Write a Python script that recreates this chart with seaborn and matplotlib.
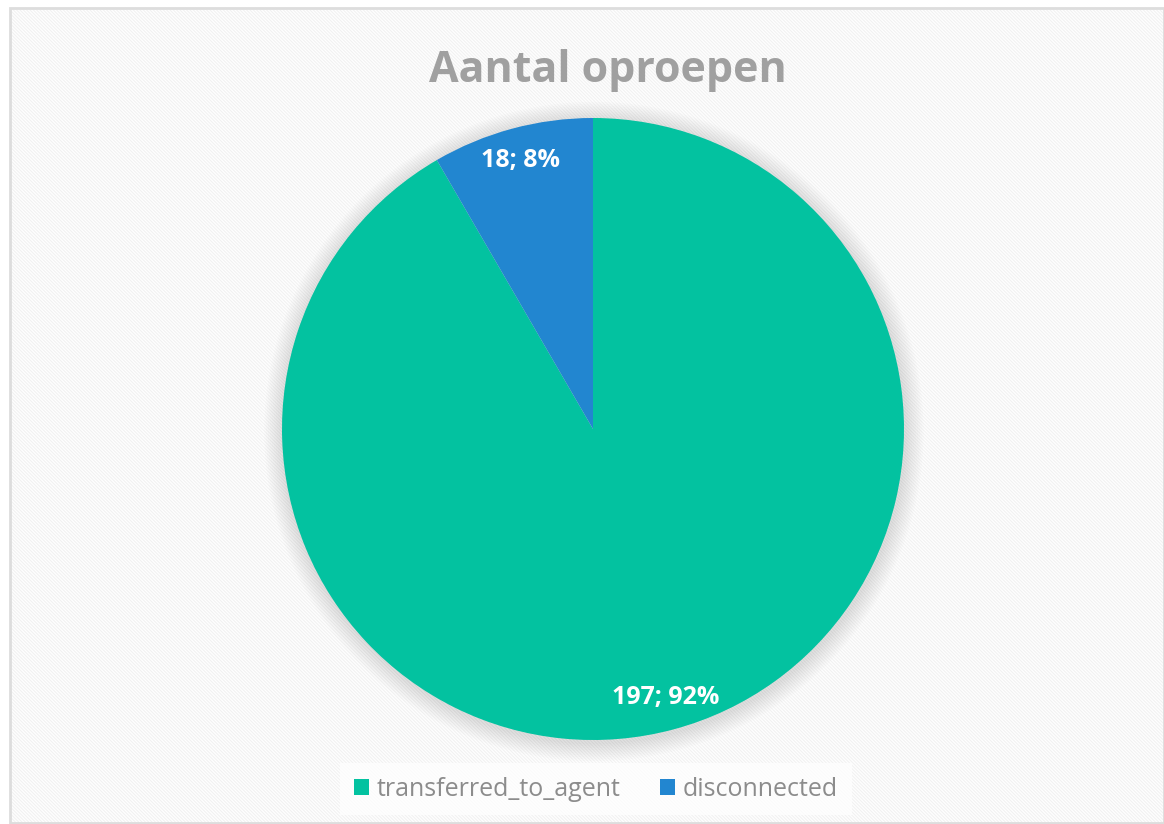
import matplotlib.pyplot as plt
import matplotlib.patches as mpatches
import seaborn as sns

# data
categories = ["transferred_to_agent", "disconnected"]
calls = [197, 18]
colors = ["#03C2A0", "#2286D0"]
title = "Aantal oproepen"

sns.set_theme(style="white")
plt.rcParams["font.family"] = ["Open Sans", "DejaVu Sans"]
plt.rcParams["hatch.linewidth"] = 0.8

W, H = 1164, 824
fig = plt.figure(figsize=(W / 100, H / 100), dpi=100)

# hatched chart background + border
bg = mpatches.Rectangle((10 / W, 0), 1 - 10 / W, 1 - 8 / H, transform=fig.transFigure,
                        facecolor="white", edgecolor="#F1F1F1", hatch="\\" * 10,
                        linewidth=0, zorder=-10)
fig.patches.append(bg)
border = mpatches.Rectangle((10 / W, 0.001), 1 - 10 / W, 1 - 8 / H - 0.001,
                            transform=fig.transFigure, fill=False,
                            edgecolor="#DDDDDD", linewidth=2, zorder=-9)
fig.patches.append(border)

# pie axes: centre (593, 429), radius 311 px
cx, cy, r = 593, 429, 311
ax = fig.add_axes([(cx - r) / W, 1 - (cy + r) / H, 2 * r / W, 2 * r / H])
ax.axis("off")
ax.patch.set_alpha(0)
ax.set_zorder(2)

# soft shadow
for i in range(10):
    ax.add_patch(mpatches.Circle((0.003, -0.008), 1.0 + 0.006 * (i + 1),
                                 facecolor="black", alpha=0.012, linewidth=0,
                                 zorder=0, clip_on=False))

total = sum(calls)
wedges, texts, autotexts = ax.pie(
    calls, colors=colors, startangle=90, counterclock=False, radius=1.0,
    autopct=lambda p: f"{round(p * total / 100)}; {p:.0f}%",
    pctdistance=0.895, wedgeprops=dict(linewidth=0),
    textprops=dict(color="white", fontsize=18, fontweight="bold"))
for w in wedges:
    w.set_zorder(2)
for t in autotexts:
    t.set_zorder(3)
ax.set_xlim(-1.0, 1.0)
ax.set_ylim(-1.0, 1.0)
ax.set_aspect("equal")

fig.text(608 / W, 1 - 70 / H, title, ha="center", va="center",
         fontsize=31, fontweight="bold", color="#A0A0A0")

handles = [mpatches.Patch(facecolor=c, edgecolor="none") for c in colors]
leg = fig.legend(handles, categories, loc="center", ncol=2,
                 bbox_to_anchor=(596 / W, 1 - 789 / H), frameon=True,
                 fontsize=18, labelcolor="#8C8C8C", handlelength=0.6,
                 handleheight=0.6, handletextpad=0.3, columnspacing=1.6,
                 borderpad=0.55)
leg.get_frame().set_facecolor("white")
leg.get_frame().set_alpha(0.7)
leg.get_frame().set_edgecolor("none")
leg.get_frame().set_boxstyle("square", pad=0.0)

fig.savefig("out.png", dpi=100)
